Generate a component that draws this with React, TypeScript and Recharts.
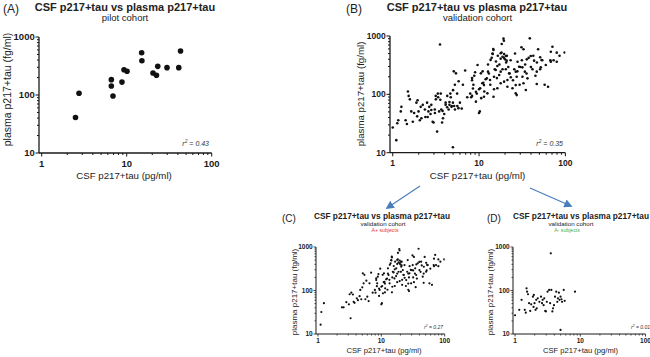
import React from 'react';
import { ScatterChart, Scatter, XAxis, YAxis } from 'recharts';

// ---------- data ----------
const pilotCSF = [2.5, 2.75, 6.6, 6.6, 6.9, 8.8, 9.3, 10.1, 15, 15.1, 20.4, 22.4, 23.2, 29.8, 41, 43];
const pilotPlasma = [41, 107, 184, 143, 96, 167, 273, 256, 536, 389, 239, 219, 312, 296, 296, 574];

// A+ subjects (validation cohort)
const posCSF = [
  1.1, 1.13, 1.24, 2.39, 2.54, 2.8, 3.08, 3.16, 3.36, 3.27, 3.56, 3.65, 3.78, 4.1, 4.27, 4.54, 4.65, 4.82, 5.0, 5.1,
  5.4, 5.25, 5.6, 5.8, 6.0, 6.3, 6.5, 6.9, 7.3, 7.9, 8.3, 8.5, 8.8, 8.1,
  8.3, 8.6, 9.0, 9.4, 10, 10.2, 10.6, 11.2, 11.5, 11, 11.9, 12.7, 13, 13.5, 14, 14.3, 14.6, 15.2, 15.7, 16.1,
  16.5, 17.2, 17.8, 18.2, 18.7, 19.4, 20.6, 21, 21.8, 22.6, 23.2, 24.7, 25.6, 26.1, 27.8, 29.5, 30.2, 31.3,
  34.2, 35.5, 37.6, 39.9, 42.5, 45, 46.8, 51, 54, 57.5, 67, 73, 85.5,
  19.2, 19.4, 18.3, 38.7, 14.7, 14.4, 17.8, 19.5, 20.4, 18.7, 20, 20.9, 13.6, 31, 32.7, 48.3, 51, 52.9, 67.8,
  70.8, 79.4, 98, 67.8, 79.4, 39.7, 35.7, 43.4, 27.9, 29.1, 31.8, 33.9, 41.6, 46.6, 51.9, 59.3, 63, 46.6, 26.6,
  27.3, 26.6, 26.6, 27.3, 22.3, 23.3, 21.3, 20.4, 16.3, 15.6, 17.1, 17.8, 14.9, 13.4, 12.7, 12.3, 11.4, 10.5,
  9.6, 10.9, 10.3, 9.2, 10, 11.4, 12.5, 14.7, 14.9, 16.3, 17.8, 19.5, 21.3, 24.4, 31.8, 36.4, 32.7, 34.8, 9.2,
];
const posPlasma = [
  16.4, 32, 51, 41, 41, 54, 48, 82, 89, 23, 81, 55, 52, 66, 60, 74, 103, 63, 118, 248,
  229, 146, 63, 168, 72, 57, 146, 257, 89, 103, 174, 126, 208, 89,
  190, 146, 239, 103, 122, 51, 86, 158, 112, 248, 181, 324, 227, 146, 422, 500, 598, 270, 366, 190,
  459, 324, 409, 521, 270, 422, 352, 459, 295, 227, 385, 174, 270, 500, 248, 146, 295, 385,
  324, 227, 422, 295, 459, 208, 352, 270, 385, 146, 385, 385, 459,
  900, 830, 730, 912, 575, 490, 505, 490, 454, 442, 398, 378, 389, 640, 592, 592, 432, 388, 538,
  656, 518, 520, 363, 363, 454, 398, 378, 363, 298, 290, 245, 269, 245, 290, 318, 135, 150, 245,
  200, 144, 104, 97, 229, 196, 176, 269, 306, 261, 215, 245, 200, 176, 245, 188, 144, 229,
  318, 155, 127, 111, 48, 91, 104, 91, 122, 127, 155, 165, 135, 127, 200, 188, 155, 119, 75,
];

// A- subjects (validation cohort)
const negCSF = [
  1.0, 1.16, 1.26, 1.41, 1.46, 1.5, 1.53, 1.58, 1.64, 1.71, 1.77, 1.88, 1.92, 1.99, 1.94, 2.06, 2.11, 2.15,
  2.23, 2.36, 2.5, 2.59, 2.65, 2.74, 2.8, 2.9, 2.97, 3.07, 3.15, 3.33, 3.45, 3.53, 3.6, 3.73, 3.82, 3.95,
  4.1, 4.28, 4.44, 4.54, 4.7, 4.8, 4.98, 4.98, 5.15, 5.26, 5.57, 5.77, 8.3,
];
const negPlasma = [
  27, 36, 61, 36, 31, 112, 94, 82, 51, 34, 48, 72, 42, 51, 79, 36, 61, 39,
  66, 55, 72, 51, 61, 46, 66, 34, 33, 55, 94, 103, 51, 716, 103, 33, 39, 46,
  72, 94, 55, 66, 89, 61, 72, 12.4, 63, 55, 103, 58, 94,
];

const xTicks = [1, 2, 3, 4, 5, 6, 7, 8, 9, 10, 20, 30, 40, 50, 60, 70, 80, 90, 100];
const yTicks = [10, 20, 30, 40, 50, 60, 70, 80, 90, 100, 200, 300, 400, 500, 600, 700, 800, 900, 1000];
const xMajor = [1, 10, 100];
const yMajor = [10, 100, 1000];

const zip = (xs: number[], ys: number[]) => xs.map((x, i) => ({ x, y: ys[i] }));
const pilotData = zip(pilotCSF, pilotPlasma);
const posData = zip(posCSF, posPlasma);
const negData = zip(negCSF, negPlasma);
const allData = [...posData, ...negData];

const FONT = '"Liberation Sans", Arial, Helvetica, sans-serif';
const INK = '#1a1a1a';

type PanelProps = {
  plotLeft: number; plotTop: number; plotW: number; plotH: number;
  data: { x: number; y: number }[]; r: number; fs: number; maj: number; mnr: number; sw: number;
  xOff: number;
};

function Panel({ plotLeft, plotTop, plotW, plotH, data, r, fs, maj, mnr, sw, xOff }: PanelProps) {
  const YW = 34, XH = 22, MT = 6, MR = 14;
  const xTick = (p: any) => {
    const v = p.payload.value;
    const big = xMajor.includes(v);
    return (
      <g>
        <line x1={p.x} x2={p.x} y1={p.y} y2={p.y + (big ? maj : mnr)} stroke={INK} strokeWidth={sw * 0.8} />
        {big && (
          <text x={p.x} y={p.y + xOff} textAnchor="middle" fontSize={fs} fontWeight="bold" fontFamily={FONT} fill={INK}>
            {v}
          </text>
        )}
      </g>
    );
  };
  const yTick = (p: any) => {
    const v = p.payload.value;
    const big = yMajor.includes(v);
    return (
      <g>
        <line x1={p.x - (big ? maj : mnr)} x2={p.x} y1={p.y} y2={p.y} stroke={INK} strokeWidth={sw * 0.8} />
        {big && (
          <text x={p.x - maj - 0.8} y={p.y} dy="0.36em" textAnchor="end" fontSize={fs} fontWeight="bold" fontFamily={FONT} fill={INK}>
            {v}
          </text>
        )}
      </g>
    );
  };
  return (
    <div style={{ position: 'absolute', left: plotLeft - YW, top: plotTop - MT }}>
      <ScatterChart width={YW + plotW + MR} height={MT + plotH + XH} margin={{ top: MT, right: MR, left: 0, bottom: 0 }}>
        <XAxis
          type="number" dataKey="x" scale="log" domain={[0.93, 100]} allowDataOverflow
          ticks={xTicks} interval={0} tickSize={0} tickMargin={0} tickLine={false}
          axisLine={{ stroke: INK, strokeWidth: sw }} height={XH} tick={xTick}
        />
        <YAxis
          type="number" dataKey="y" scale="log" domain={[10, 1000]} allowDataOverflow
          ticks={yTicks} interval={0} tickSize={0} tickMargin={0} tickLine={false}
          axisLine={{ stroke: INK, strokeWidth: sw }} width={YW} tick={yTick}
        />
        <Scatter
          data={data}
          isAnimationActive={false}
          shape={(p: any) => <circle cx={p.cx} cy={p.cy} r={r} fill="#111" />}
        />
      </ScatterChart>
    </div>
  );
}

const R2 = ({ x, y, fs, val }: { x: number; y: number; fs: number; val: string }) => (
  <text x={x} y={y} textAnchor="end" fontSize={fs} fontStyle="italic" fontFamily={FONT} fill="#333">
    <tspan>r</tspan>
    <tspan dy={-fs * 0.4} fontSize={fs * 0.7}>2</tspan>
    <tspan dy={fs * 0.4}> = {val}</tspan>
  </text>
);

export default function App() {
  const t = { fontFamily: FONT, fill: '#222' } as const;
  return (
    <div style={{ position: 'absolute', left: 0, top: 0, width: 650, height: 357, overflow: 'hidden', background: '#fff' }}>
      <Panel plotLeft={39.3} plotTop={37} plotW={172.7} plotH={116} data={pilotData} r={2.8} fs={9.5} maj={3.5} mnr={2} sw={1.3} xOff={13.8} />
      <Panel plotLeft={389.6} plotTop={36} plotW={175.4} plotH={116.7} data={allData} r={1.3} fs={8.5} maj={3.5} mnr={2} sw={1.3} xOff={13.5} />
      <Panel plotLeft={316.3} plotTop={247} plotW={128.7} plotH={87} data={posData} r={1.1} fs={6.5} maj={2.5} mnr={1.5} sw={1} xOff={9.3} />
      <Panel plotLeft={512.5} plotTop={247} plotW={132.5} plotH={87} data={negData} r={1.1} fs={6.5} maj={2.5} mnr={1.5} sw={1} xOff={9.3} />

      <svg width={650} height={357} style={{ position: 'absolute', left: 0, top: 0, pointerEvents: 'none' }}>
        <defs>
          <marker id="ah" viewBox="0 0 10 10" refX="8" refY="5" markerWidth="7" markerHeight="7" orient="auto-start-reverse">
            <path d="M0,0 L10,5 L0,10 z" fill="#4a7ebb" />
          </marker>
        </defs>

        {/* Panel A */}
        <text x={3} y={13} fontSize={12} {...t}>(A)</text>
        <text x={125} y={10.5} fontSize={11} fontWeight="bold" textAnchor="middle" {...t}>CSF p217+tau vs plasma p217+tau</text>
        <text x={125} y={20.5} fontSize={9.5} textAnchor="middle" {...t}>pilot cohort</text>
        <text transform="translate(11,89.5) rotate(-90)" fontSize={10.5} textAnchor="middle" {...t}>plasma p217+tau (fg/ml)</text>
        <text x={124} y={179} fontSize={9.7} textAnchor="middle" {...t}>CSF p217+tau (pg/ml)</text>
        <R2 x={209} y={145.5} fs={7} val="0.43" />

        {/* Panel B */}
        <text x={346} y={13} fontSize={12} {...t}>(B)</text>
        <text x={477} y={10.5} fontSize={11} fontWeight="bold" textAnchor="middle" {...t}>CSF p217+tau vs plasma p217+tau</text>
        <text x={477.5} y={20.5} fontSize={9.5} textAnchor="middle" {...t}>validation cohort</text>
        <text transform="translate(364,94) rotate(-90)" fontSize={9.7} textAnchor="middle" {...t}>plasma p217+tau (fg/ml)</text>
        <text x={477.5} y={179} fontSize={9.7} textAnchor="middle" {...t}>CSF p217+tau (pg/ml)</text>
        <R2 x={563} y={145.5} fs={7} val="0.35" />

        {/* arrows */}
        <line x1={420} y1={186} x2={387} y2={208} stroke="#4a7ebb" strokeWidth={1.2} markerEnd="url(#ah)" />
        <line x1={530} y1={188} x2={571} y2={206} stroke="#4a7ebb" strokeWidth={1.2} markerEnd="url(#ah)" />

        {/* Panel C */}
        <text x={282} y={222} fontSize={10} {...t}>(C)</text>
        <text x={382} y={219} fontSize={8.3} fontWeight="bold" textAnchor="middle" {...t}>CSF p217+tau vs plasma p217+tau</text>
        <text x={383} y={226.3} fontSize={6.2} textAnchor="middle" {...t}>validation cohort</text>
        <text x={385} y={232} fontSize={5.2} textAnchor="middle" fontFamily={FONT} fill="#e53935">A+ subjects</text>
        <text transform="translate(297,292) rotate(-90)" fontSize={8} textAnchor="middle" {...t}>plasma p217+tau (fg/ml)</text>
        <text x={384} y={353} fontSize={7.6} textAnchor="middle" {...t}>CSF p217+tau (pg/ml)</text>
        <R2 x={443} y={328.5} fs={5} val="0.27" />

        {/* Panel D */}
        <text x={487} y={222} fontSize={10} {...t}>(D)</text>
        <text x={581} y={219} fontSize={8.3} fontWeight="bold" textAnchor="middle" {...t}>CSF p217+tau vs plasma p217+tau</text>
        <text x={571} y={226.3} fontSize={6.2} textAnchor="middle" {...t}>validation cohort</text>
        <text x={567} y={232} fontSize={5.2} textAnchor="middle" fontFamily={FONT} fill="#4caf50">A- subjects</text>
        <text transform="translate(493,292) rotate(-90)" fontSize={8} textAnchor="middle" {...t}>plasma p217+tau (fg/ml)</text>
        <text x={580.5} y={353} fontSize={7.6} textAnchor="middle" {...t}>CSF p217+tau (pg/ml)</text>
        <R2 x={650} y={328.5} fs={5} val="0.01" />
      </svg>
    </div>
  );
}
